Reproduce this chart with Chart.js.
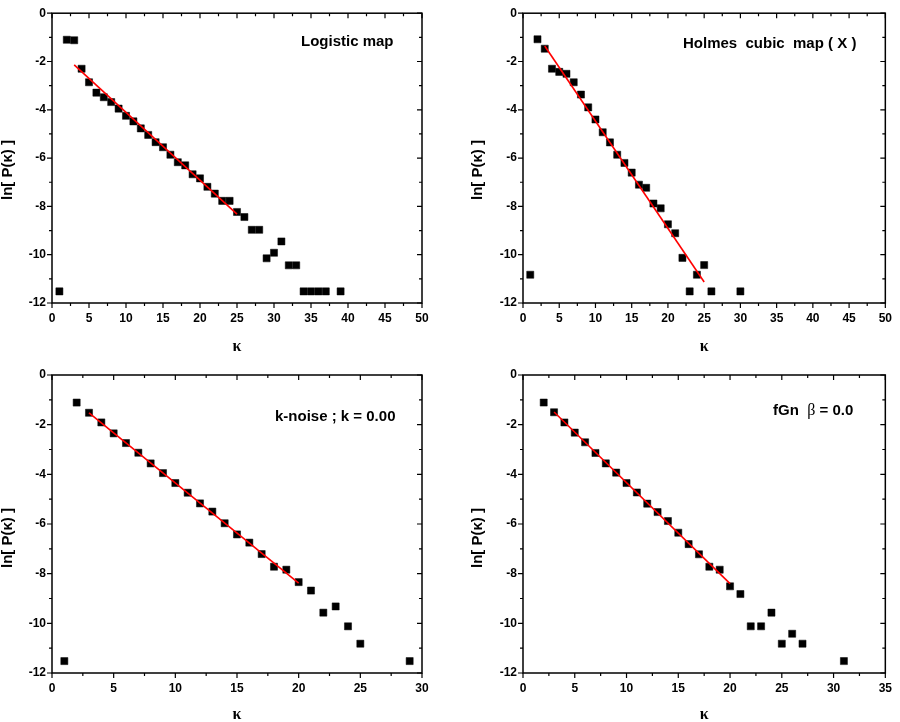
<!DOCTYPE html>
<html lang="en">
<head>
    <meta charset="utf-8">
    <title>ln P(k) panels</title>
    <script src="https://cdn.jsdelivr.net/npm/chart.js"></script>
    <style>
        html, body { margin: 0; padding: 0; background: #fff; }
        .panel { position: absolute; }
    </style>
</head>
<body>
    <div class="panel" style="left:0;top:0;width:450px;height:360px"><canvas id="logisticChart"></canvas></div>
    <div class="panel" style="left:450px;top:0;width:450px;height:360px"><canvas id="holmesChart"></canvas></div>
    <div class="panel" style="left:0;top:360px;width:450px;height:362px"><canvas id="knoiseChart"></canvas></div>
    <div class="panel" style="left:450px;top:360px;width:450px;height:362px"><canvas id="fgnChart"></canvas></div>

    <script>
        // Logistic map
        const logisticK = [1, 2, 3, 4, 5, 6, 7, 8, 9, 10, 11, 12, 13, 14, 15, 16, 17, 18, 19, 20,
            21, 22, 23, 24, 25, 26, 27, 28, 29, 30, 31, 32, 33, 34, 35, 36, 37, 39];
        const logisticLnP = [-11.52, -1.10, -1.12, -2.30, -2.86, -3.29, -3.48, -3.68, -3.95, -4.25,
            -4.48, -4.77, -5.04, -5.34, -5.55, -5.86, -6.17, -6.30, -6.67, -6.84,
            -7.19, -7.47, -7.77, -7.77, -8.23, -8.44, -8.97, -8.97, -10.15, -9.92,
            -9.45, -10.44, -10.44, -11.52, -11.52, -11.52, -11.52, -11.52];
        const logisticFitK = [3, 25];
        const logisticFitLnP = [-2.14, -8.32];

        // Holmes cubic map (X)
        const holmesK = [1, 2, 3, 4, 5, 6, 7, 8, 9, 10, 11, 12, 13, 14, 15, 16, 17, 18, 19, 20,
            21, 22, 23, 24, 25, 26, 30];
        const holmesLnP = [-10.83, -1.08, -1.47, -2.30, -2.43, -2.51, -2.86, -3.37, -3.90, -4.40,
            -4.93, -5.35, -5.86, -6.20, -6.60, -7.10, -7.23, -7.88, -8.08, -8.74,
            -9.11, -10.13, -11.52, -10.83, -10.43, -11.52, -11.52];
        const holmesFitK = [3, 25];
        const holmesFitLnP = [-1.36, -11.13];

        // k-noise, k = 0.00
        const knoiseK = [1, 2, 3, 4, 5, 6, 7, 8, 9, 10, 11, 12, 13, 14, 15, 16, 17, 18, 19, 20,
            21, 22, 23, 24, 25, 29];
        const knoiseLnP = [-11.52, -1.11, -1.52, -1.91, -2.35, -2.74, -3.13, -3.56, -3.95, -4.35,
            -4.74, -5.17, -5.50, -5.97, -6.42, -6.75, -7.21, -7.72, -7.84, -8.34,
            -8.68, -9.57, -9.32, -10.12, -10.82, -11.52];
        const knoiseFitK = [3, 20];
        const knoiseFitLnP = [-1.53, -8.38];

        // fGn, beta = 0.0
        const fgnK = [2, 3, 4, 5, 6, 7, 8, 9, 10, 11, 12, 13, 14, 15, 16, 17, 18, 19, 20,
            21, 22, 23, 24, 25, 26, 27, 31];
        const fgnLnP = [-1.11, -1.50, -1.91, -2.32, -2.71, -3.14, -3.56, -3.93, -4.35, -4.73,
            -5.18, -5.52, -5.88, -6.35, -6.81, -7.22, -7.72, -7.84, -8.51, -8.82,
            -10.12, -10.12, -9.57, -10.82, -10.42, -10.82, -11.52];
        const fgnFitK = [3, 20];
        const fgnFitLnP = [-1.49, -8.40];

        // axis ranges
        const yRange = [-12, 0];
        const yStep = 2;
        const xMaxes = { logistic: 50, holmes: 50, knoise: 30, fgn: 35 };
        const xStep = 5;

        const SANS = '"Liberation Sans", Arial, sans-serif';
        const SERIF = '"Liberation Serif", "Times New Roman", serif';

        Chart.defaults.font.family = SANS;
        Chart.defaults.color = '#000';

        function toPoints(xs, ys) {
            return xs.map((x, i) => ({ x: x, y: ys[i] }));
        }

        // frame, tick marks, titles and label text
        const framePlugin = {
            id: 'frame',
            afterDraw(chart, args, opts) {
                const ctx = chart.ctx;
                const a = chart.chartArea;
                const xs = chart.scales.x, ys = chart.scales.y;
                ctx.save();
                ctx.strokeStyle = '#000';
                ctx.lineWidth = 1.5;
                ctx.strokeRect(a.left, a.top, a.right - a.left, a.bottom - a.top);

                ctx.lineWidth = 1.2;
                ctx.beginPath();
                for (let v = xs.min; v <= xs.max + 1e-9; v += xStep / 2) {
                    const px = xs.getPixelForValue(v);
                    const len = Math.abs(v % xStep) < 1e-9 ? 5 : 3;
                    ctx.moveTo(px, a.bottom); ctx.lineTo(px, a.bottom + len);
                    ctx.moveTo(px, a.top); ctx.lineTo(px, a.top + len);
                }
                for (let v = ys.min; v <= ys.max + 1e-9; v += yStep / 2) {
                    const py = ys.getPixelForValue(v);
                    const len = Math.abs(v % yStep) < 1e-9 ? 5 : 3;
                    ctx.moveTo(a.left, py); ctx.lineTo(a.left - len, py);
                    ctx.moveTo(a.right, py); ctx.lineTo(a.right - len, py);
                }
                ctx.stroke();

                // x title
                ctx.fillStyle = '#000';
                ctx.font = 'bold 16px ' + SERIF;
                ctx.textAlign = 'center';
                ctx.textBaseline = 'middle';
                ctx.fillText('\u03BA', (a.left + a.right) / 2, opts.xTitleY);

                // y title
                ctx.save();
                ctx.translate(opts.yTitleX, opts.yTitleY);
                ctx.rotate(-Math.PI / 2);
                ctx.font = 'bold 15px ' + SANS;
                ctx.fillText('ln[ P(\u03BA) ]', 0, 0);
                ctx.restore();

                // panel label (pieces may switch font)
                ctx.textAlign = 'left';
                let x = opts.labelX;
                opts.label.forEach(part => {
                    ctx.font = part.font;
                    ctx.fillText(part.text, x, opts.labelY);
                    x += ctx.measureText(part.text).width;
                });
                ctx.restore();
            }
        };

        function makePanel(id, k, lnP, fitK, fitLnP, xMax, layout) {
            new Chart(document.getElementById(id), {
                type: 'scatter',
                data: {
                    datasets: [
                        {
                            data: toPoints(k, lnP),
                            pointStyle: 'rect',
                            pointRadius: 5,
                            backgroundColor: '#000',
                            borderColor: '#000',
                            borderWidth: 0.5,
                            order: 2
                        },
                        {
                            type: 'line',
                            data: toPoints(fitK, fitLnP),
                            borderColor: '#ff0000',
                            borderWidth: 1.6,
                            pointRadius: 0,
                            fill: false,
                            order: 1
                        }
                    ]
                },
                options: {
                    responsive: true,
                    maintainAspectRatio: false,
                    animation: false,
                    events: [],
                    layout: { padding: { top: layout.top, right: layout.right, left: 0, bottom: 0 } },
                    plugins: {
                        legend: { display: false },
                        tooltip: { enabled: false },
                        frame: layout
                    },
                    scales: {
                        x: {
                            type: 'linear',
                            min: 0,
                            max: xMax,
                            afterFit: s => { s.height = layout.xAxisHeight; },
                            grid: { display: false, drawTicks: false },
                            border: { display: false },
                            ticks: { stepSize: xStep, padding: 8, font: { size: 12, weight: 'bold' }, color: '#000', maxRotation: 0 }
                        },
                        y: {
                            min: yRange[0],
                            max: yRange[1],
                            afterFit: s => { s.width = layout.yAxisWidth; },
                            grid: { display: false, drawTicks: false },
                            border: { display: false },
                            ticks: { stepSize: yStep, padding: 6, font: { size: 12, weight: 'bold' }, color: '#000' }
                        }
                    }
                },
                plugins: [framePlugin]
            });
        }

        const bold15 = 'bold 15px ' + SANS;

        makePanel('logisticChart', logisticK, logisticLnP, logisticFitK, logisticFitLnP, xMaxes.logistic, {
            top: 6, right: 28, yAxisWidth: 52, xAxisHeight: 57,
            xTitleY: 347, yTitleX: 8, yTitleY: 170,
            labelX: 301, labelY: 42, label: [{ text: 'Logistic map', font: bold15 }]
        });
        makePanel('holmesChart', holmesK, holmesLnP, holmesFitK, holmesFitLnP, xMaxes.holmes, {
            top: 6, right: 8, yAxisWidth: 73, xAxisHeight: 57,
            xTitleY: 347, yTitleX: 28, yTitleY: 170,
            labelX: 233, labelY: 44, label: [{ text: 'Holmes  cubic  map ( X )', font: bold15 }]
        });
        makePanel('knoiseChart', knoiseK, knoiseLnP, knoiseFitK, knoiseFitLnP, xMaxes.knoise, {
            top: 15, right: 28, yAxisWidth: 52, xAxisHeight: 49,
            xTitleY: 355, yTitleX: 8, yTitleY: 178,
            labelX: 275, labelY: 57, label: [{ text: 'k-noise ; k = 0.00', font: bold15 }]
        });
        makePanel('fgnChart', fgnK, fgnLnP, fgnFitK, fgnFitLnP, xMaxes.fgn, {
            top: 15, right: 8, yAxisWidth: 73, xAxisHeight: 49,
            xTitleY: 355, yTitleX: 28, yTitleY: 178,
            labelX: 323, labelY: 51, label: [
                { text: 'fGn  ', font: bold15 },
                { text: '\u03B2', font: '16px ' + SERIF },
                { text: ' = 0.0', font: bold15 }
            ]
        });
    </script>
</body>
</html>
